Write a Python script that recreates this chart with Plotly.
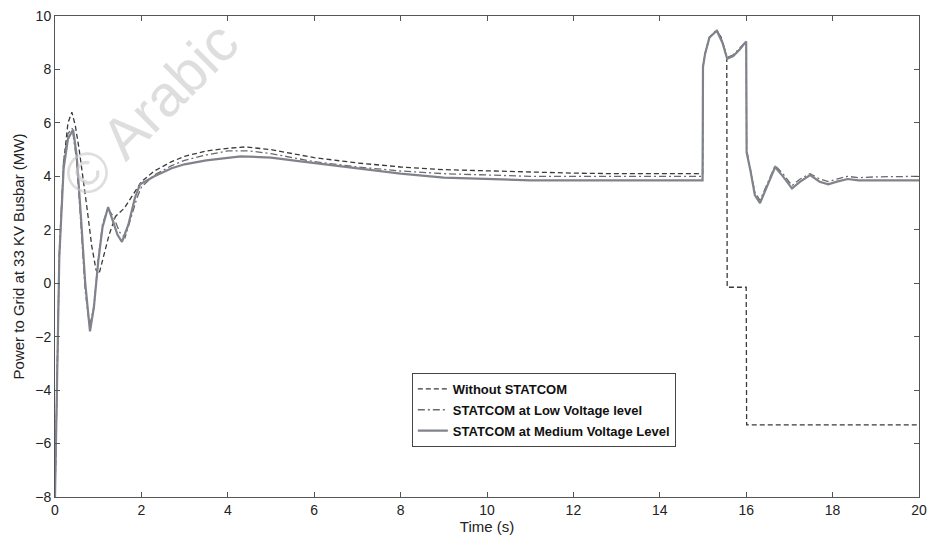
import plotly.graph_objects as go

# ---- Data ----
t_without = [0, 0.05, 0.1, 0.2, 0.3, 0.39, 0.47, 0.56, 0.65, 0.75, 0.85, 0.95, 1.02, 1.12, 1.25, 1.4, 1.6, 1.8, 2.0,
             2.3, 2.7, 3.0, 3.5, 4.0, 4.4, 5.0, 5.5, 6.0, 7.0, 8.0, 9.0, 10.0, 11.0, 12.0, 13.0, 14.0, 14.99,
             15.0, 15.05, 15.15, 15.32, 15.42, 15.5, 15.55, 15.56, 16.0, 16.01, 20.0]
p_without = [-8, -3, 1.0, 4.5, 6.0, 6.4, 5.9, 5.0, 4.0, 2.7, 1.4, 0.5, 0.35, 1.0, 1.8, 2.5, 2.8, 3.3, 3.8,
             4.2, 4.55, 4.75, 4.95, 5.05, 5.1, 5.0, 4.85, 4.7, 4.5, 4.35, 4.25, 4.2, 4.15, 4.12, 4.1, 4.1, 4.1,
             8.1, 8.6, 9.2, 9.45, 9.2, 8.7, 8.45, -0.15, -0.15, -5.3, -5.3]

t_low = [0, 0.05, 0.1, 0.2, 0.3, 0.4, 0.5, 0.6, 0.7, 0.8, 0.9, 1.0, 1.1, 1.22, 1.35, 1.5, 1.62, 1.75, 1.9, 2.0,
         2.3, 2.7, 3.0, 3.5, 4.0, 4.5, 5.0, 5.5, 6.0, 7.0, 8.0, 9.0, 10.0, 11.0, 12.0, 13.0, 14.0, 14.99,
         15.0, 15.05, 15.15, 15.32, 15.45, 15.56, 15.7, 15.85, 16.0, 16.01, 16.1, 16.2, 16.32, 16.45, 16.67,
         16.85, 17.06, 17.25, 17.48, 17.7, 17.9, 18.1, 18.35, 18.6, 19.0, 20.0]
p_low = [-8, -3.5, 1.2, 4.6, 5.6, 5.8, 4.6, 2.2, -0.3, -1.6, -0.9, 0.9, 2.2, 2.8, 2.5, 1.9, 1.7, 2.4, 3.2, 3.6,
         4.05, 4.4, 4.6, 4.8, 4.95, 4.95, 4.85, 4.7, 4.55, 4.35, 4.2, 4.1, 4.05, 4.0, 4.0, 4.0, 4.0, 4.0,
         8.1, 8.6, 9.2, 9.5, 9.05, 8.45, 8.55, 8.8, 9.05, 5.0, 4.25, 3.4, 3.1, 3.6, 4.4,
         4.1, 3.65, 3.9, 4.1, 3.9, 3.8, 3.9, 4.0, 3.95, 3.98, 4.0]

t_medium = [0, 0.05, 0.1, 0.2, 0.3, 0.42, 0.5, 0.6, 0.7, 0.81, 0.9, 1.0, 1.1, 1.23, 1.35, 1.45, 1.55, 1.7, 1.85, 1.97,
            2.3, 2.7, 3.0, 3.5, 4.3, 5.0, 5.5, 6.0, 7.0, 8.0, 9.0, 10.0, 10.5, 11.0, 12.0, 13.0, 14.0, 14.99,
            15.0, 15.05, 15.15, 15.32, 15.45, 15.56, 15.7, 15.85, 16.0, 16.01, 16.1, 16.2, 16.32, 16.45, 16.67,
            16.85, 17.06, 17.25, 17.48, 17.7, 17.9, 18.1, 18.35, 18.6, 19.0, 20.0]
p_medium = [-8, -4, 1.0, 4.3, 5.4, 5.75, 4.8, 2.5, 0.0, -1.8, -0.9, 0.8, 2.1, 2.85, 2.3, 1.8, 1.55, 2.2, 3.2, 3.7,
            4.0, 4.3, 4.45, 4.6, 4.75, 4.7, 4.6, 4.5, 4.3, 4.1, 3.95, 3.9, 3.85, 3.85, 3.85, 3.85, 3.85, 3.85,
            8.1, 8.6, 9.2, 9.45, 9.0, 8.4, 8.5, 8.75, 9.05, 4.9, 4.2, 3.3, 3.0, 3.5, 4.35,
            4.0, 3.55, 3.8, 4.05, 3.8, 3.7, 3.8, 3.9, 3.85, 3.85, 3.85]

x_ticks = [0, 2, 4, 6, 8, 10, 12, 14, 16, 18, 20]
y_ticks = [-8, -6, -4, -2, 0, 2, 4, 6, 8, 10]

fig = go.Figure()
fig.add_trace(go.Scatter(x=t_without, y=p_without, mode="lines", name="Without STATCOM",
                         legendgroup="a",
                         line=dict(color="#3a3a3a", width=1.3, dash="5px,3px")))
fig.add_trace(go.Scatter(x=t_low, y=p_low, mode="lines", name="STATCOM at Low Voltage level",
                         legendgroup="b",
                         line=dict(color="#6a6a6a", width=1.3, dash="7px,3px,2px,3px")))
fig.add_trace(go.Scatter(x=t_medium, y=p_medium, mode="lines", name="STATCOM at Medium Voltage Level",
                         legendgroup="c",
                         line=dict(color="#80838c", width=2.2)))

axis_common = dict(showline=True, linecolor="#555", linewidth=1, mirror="ticks",
                   ticks="inside", ticklen=5, tickcolor="#555", showgrid=False, zeroline=False,
                   automargin=False,
                   tickfont=dict(family="Liberation Sans, Arial", size=14, color="#222"))

fig.update_layout(
    width=930, height=547,
    margin=dict(l=55, r=11, t=16, b=50),
    paper_bgcolor="white", plot_bgcolor="white",
    xaxis=dict(range=[0, 20], tickvals=x_ticks,
               title=dict(text="Time (s)", font=dict(family="Liberation Sans, Arial", size=15, color="#222"),
                          standoff=4),
               **axis_common),
    yaxis=dict(range=[-8, 10], tickvals=y_ticks,
               title=dict(text="Power to Grid at 33 KV Busbar (MW)",
                          font=dict(family="Liberation Sans, Arial", size=15, color="#222"), standoff=6),
               **axis_common),
    legend=dict(x=0.413, y=0.258, xanchor="left", yanchor="top",
                bgcolor="white", bordercolor="#444", borderwidth=1,
                font=dict(family="Liberation Sans, Arial", size=13, color="#111", weight="bold"),
                tracegroupgap=1),
    showlegend=True,
    annotations=[dict(text="© Arabic", x=0.11, y=0.805, xref="paper", yref="paper",
                      xanchor="center", yanchor="middle",
                      showarrow=False, textangle=-45,
                      font=dict(family="Liberation Sans, Arial", size=58, color="rgba(200,200,200,0.6)"))],
)

fig.write_html("out.html")
